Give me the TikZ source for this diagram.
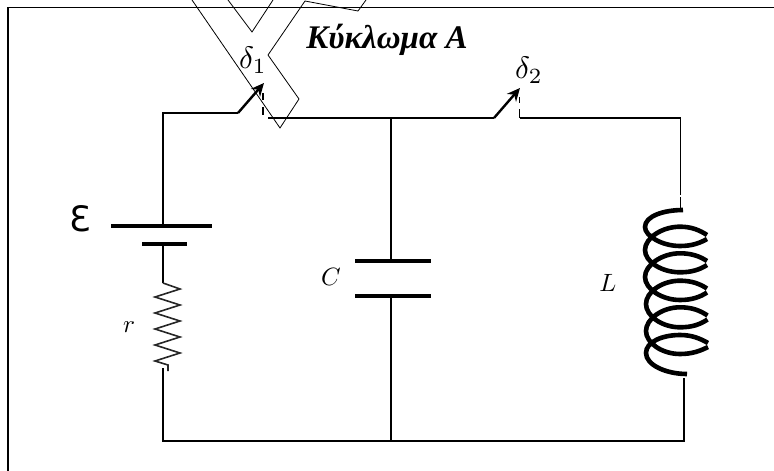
\documentclass[tikz,border=0pt]{standalone}
\usepackage{fontspec}
\setmainfont{Liberation Serif}
\newfontfamily\epsfont{DejaVu Sans}
\usetikzlibrary{arrows.meta}
\tikzset{
  wire/.style={line width=1.4pt,black},
  frameline/.style={line width=1.6pt,black},
  outline/.style={line width=0.8pt,black},
  plate/.style={line width=4.5pt,black},
  coilline/.style={line width=4.6pt,black},
  lever/.style={line width=2.4pt,black,-{Stealth[length=13pt,width=12pt]}},
  contact/.style={line width=1.1pt,black},
  lbl/.style={inner sep=0pt,outer sep=0pt,scale=2.5},
  swlbl/.style={inner sep=0pt,outer sep=0pt,scale=3.1},
}
\begin{document}
\begin{tikzpicture}[x=1pt,y=-1pt]
\useasboundingbox (0,0) rectangle (774,471);
% frame
\coordinate (fbl) at (8,471);
\coordinate (ftl) at (8,7.5);
\coordinate (ftr) at (774,7.5);
\draw[frameline] (fbl) -- (ftl) -- (ftr);
% junctions
\coordinate (batTop) at (163,113);
\coordinate (s1a) at (238,113);
\coordinate (s1tip) at (264,83);
\coordinate (m0) at (268,118);
\coordinate (capTop) at (391,118);
\coordinate (s2a) at (494,118);
\coordinate (s2tip) at (520,88);
\coordinate (s2d) at (519.5,118);
\coordinate (corner) at (680.5,118);
\coordinate (coilIn) at (680.5,195);
\coordinate (coilIn2) at (680.5,197);
\coordinate (coilW) at (680.5,208);
\coordinate (coilS) at (683,210);
\coordinate (coilE) at (687,374);
\coordinate (coilOut) at (684,378);
\coordinate (br) at (684,441);
\coordinate (bm) at (391,441);
\coordinate (bl) at (163,441);
\coordinate (p1) at (163,226);
\coordinate (p2) at (163,244);
\coordinate (rT) at (163,283);
\coordinate (rB) at (163,368);
\coordinate (c1) at (391,261);
\coordinate (c2) at (391,296);
% outline polygon behind the switch
\draw[outline] (192,0) -- (280,128) -- (299,99) -- (268,55) -- (305,1) -- (358,11) -- (366,0);
\draw[outline] (228,0) -- (252,32) -- (273,0);
% wires
\draw[wire] (p1) -- (batTop) -- (s1a);
\draw[lever] (s1a) -- (s1tip);
\draw[contact] (263,93) -- (263,100);
\draw[contact] (263,107) -- (263,115);
\draw[wire] (m0) -- (capTop) -- (s2a);
\draw[lever] (s2a) -- (s2tip);
\draw[contact] (519.5,97) -- (519.5,103);
\draw[contact] (519.5,109) -- (s2d);
\draw[wire] (s2d) -- (corner) -- (coilIn);
\draw[wire] (coilIn2) -- (coilW);
\draw[wire] (capTop) -- (c1);
\draw[wire] (c2) -- (bm);
\draw[wire] (p2) -- (rT);
\draw[wire] (rB) -- (bl) -- (bm) -- (br) -- (coilOut);
\draw[line width=2.2pt] (601,441) -- (br) -- (684,400);
% battery
\draw[plate] (111,226) -- (212,226);
\draw[plate] (142,244) -- (187,244);
% capacitor
\draw[plate] (355,261) -- (431,261);
\draw[plate] (355,296) -- (431,296);
% resistor
\draw[line width=1.6pt,black!85,line join=miter]
  (rT) -- (180,289) -- (155,297) -- (180,305) -- (155,313) -- (180,321) -- (155,329)
  -- (180,337) -- (155,345) -- (180,353) -- (155,361) -- (168,365) -- (168,371);
% inductor
\draw[coilline,line cap=butt] (coilS)
  .. controls (664,210) and (645,216) .. (645,227)
  .. controls (645,236) and (662,246) .. (680,246)
  .. controls (692,246) and (700,243) .. (707,239)
  (707,235) .. controls (700,230.5) and (692,226.7) .. (680,226.7)
  .. controls (662,226.7) and (645,238) .. (645,250)
  .. controls (645,262) and (662,272.3) .. (680,272.3)
  .. controls (692,272.3) and (700,269.5) .. (707,265)
  (707,261) .. controls (700,256.5) and (692,253.3) .. (680,253.3)
  .. controls (662,253.3) and (645,265) .. (645,277)
  .. controls (645,289) and (662,300) .. (680,300)
  .. controls (692,300) and (700,297) .. (707,292.5)
  (707,288.5) .. controls (700,284) and (692,280.7) .. (680,280.7)
  .. controls (662,280.7) and (646,292) .. (646,304)
  .. controls (646,316) and (662,327.3) .. (680,327.3)
  .. controls (692,327.3) and (700,324.5) .. (707.5,319.5)
  (707.5,315.5) .. controls (700,310.5) and (692,307.3) .. (680,307.3)
  .. controls (662,307.3) and (646,319) .. (646,331)
  .. controls (646,343) and (662,354) .. (680,354)
  .. controls (692,354) and (700,351) .. (708,347)
  (708,343) .. controls (700,338.5) and (692,335) .. (680,335)
  .. controls (662,335) and (646,342) .. (646,353)
  .. controls (646,365) and (666,374) .. (coilE);
% labels
\node[swlbl] (d1) at (253,60) {$\delta_1$};
\node[swlbl] (d2) at (529,70) {$\delta_2$};
\node[lbl] (lc) at (331,277) {$C$};
\node[lbl] (ll) at (608,283) {$L$};
\node[lbl] (lr) at (129,327) {$r$};
\node[inner sep=0pt,outer sep=0pt,font=\epsfont\fontsize{35}{37}\selectfont] (le) at (80.5,219) {Ɛ};
\node[inner sep=0pt,outer sep=0pt,font=\bfseries\itshape\fontsize{33}{35}\selectfont] (title) at (387,40) {Κύκλωμα Α};
\end{tikzpicture}
\end{document}
